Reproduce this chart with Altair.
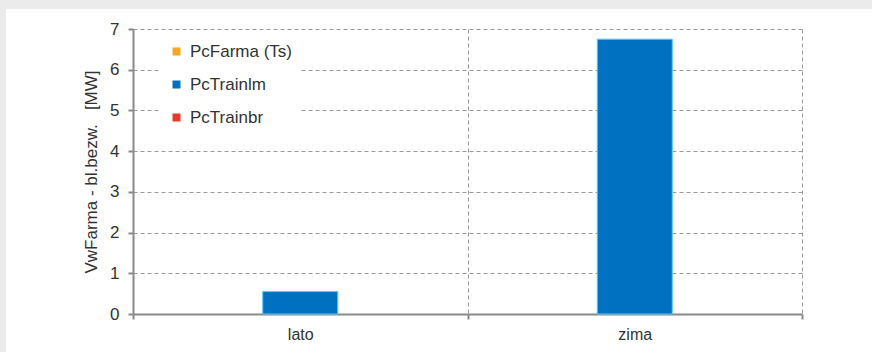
import altair as alt
import pandas as pd

categories = ["lato", "zima"]
series = ["PcFarma (Ts)", "PcTrainlm", "PcTrainbr"]
pc_farma = [0.0, 0.0]
pc_trainlm = [0.55, 6.75]
pc_trainbr = [0.0, 0.0]
colors = ["#F5A623", "#0070C0", "#E8392B"]
y_title = "VwFarma - bl.bezw.\u00a0\u00a0 [MW]"

rows = []
for i, c in enumerate(categories):
    for s, vals in zip(series, [pc_farma, pc_trainlm, pc_trainbr]):
        rows.append({"season": c, "series": s, "value": vals[i]})
df = pd.DataFrame(rows)

W, H = 669, 285
PL, PT = 133, 29
FONT = "Liberation Sans"

bars = alt.Chart(df).mark_bar(stroke="#5BC8F5").encode(
    x=alt.X("season:N", sort=categories,
            scale=alt.Scale(paddingInner=0, paddingOuter=0),
            axis=alt.Axis(title=None, labelAngle=0, tickBand="extent", grid=True,
                          gridDash=[4, 3], gridColor="#9a9a9a", gridWidth=1,
                          domainColor="#8a8a8a", domainWidth=2,
                          tickColor="#8a8a8a", tickWidth=2, tickSize=5,
                          labelFontSize=16, labelColor="#333333", labelFont=FONT,
                          labelPadding=7)),
    xOffset=alt.XOffset("series:N", sort=series,
                        scale=alt.Scale(paddingOuter=0.73, paddingInner=0)),
    y=alt.Y("value:Q", scale=alt.Scale(domain=[0, 7], nice=False),
            axis=alt.Axis(title=y_title, values=list(range(8)),
                          grid=True, gridDash=[4, 3], gridColor="#9a9a9a", gridWidth=1,
                          domainColor="#8a8a8a", domainWidth=2,
                          tickColor="#8a8a8a", tickWidth=2, tickSize=5,
                          labelFontSize=17, labelColor="#333333", labelFont=FONT,
                          labelPadding=9, titleFont=FONT, titleFontSize=17,
                          titleFontWeight="normal", titleColor="#333333",
                          titlePadding=9)),
    color=alt.Color("series:N", sort=series,
                    scale=alt.Scale(domain=series, range=colors),
                    legend=alt.Legend(title=None, orient="none", legendX=27, legendY=6,
                                      fillColor="white", padding=8,
                                      symbolType="square", symbolSize=64,
                                      symbolStrokeWidth=0, labelFontSize=17,
                                      labelFont=FONT, labelColor="#333333",
                                      labelOffset=5, rowPadding=15)),
    strokeWidth=alt.condition("datum.value > 0", alt.value(1), alt.value(0)),
)

top_band = alt.Chart(df).mark_rect(color="#EBEBEB").encode(
    x=alt.value(-PL), x2=alt.value(W + 80), y=alt.value(-PT), y2=alt.value(-PT + 9))
left_band = alt.Chart(df).mark_rect(color="#EBEBEB").encode(
    x=alt.value(-PL), x2=alt.value(-PL + 6), y=alt.value(-PT), y2=alt.value(H + 40))

chart = alt.layer(top_band, left_band, bars).properties(
    width=W, height=H,
    autosize=alt.AutoSizeParams(type="none"),
    padding={"left": PL, "top": PT, "right": 872 - PL - W, "bottom": 352 - PT - H},
    background="white",
).configure_view(stroke=None)

chart.save("out.html", embed_options={"renderer": "svg", "actions": False})
